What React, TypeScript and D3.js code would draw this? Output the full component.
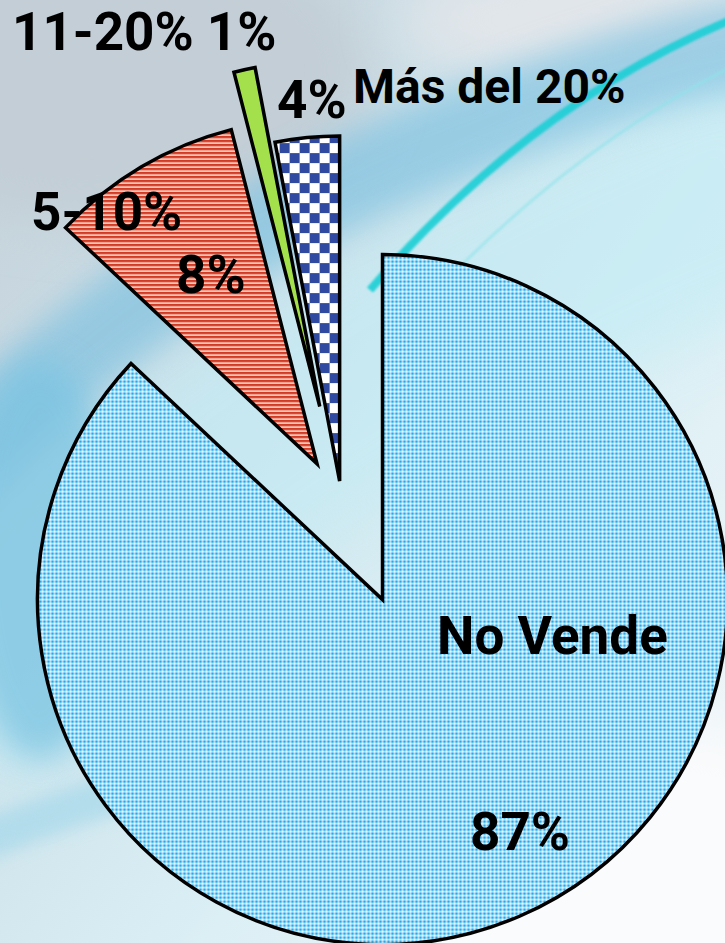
import React from "react";
import * as d3 from "d3";

// ---- data ----
const categories = ["No Vende", "5-10%", "11-20%", "Más del 20%"];
const values = [87, 9, 1, 3];
const pctLabels = ["87%", "8%", "1%", "4%"];

// ---- layout / style ----
const W = 725;
const H = 943;
const CX = 342;
const CY = 506;
const R = 345;
const explode = [102, 49, 102, 25];
const fills = ["url(#pDots)", "url(#pStripes)", "#a3e04b", "url(#pChecker)"];

type Lbl = { t: string; x: number; y: number; size: number };
const labels: Lbl[] = [
  { t: categories[0], x: 437, y: 654, size: 53 },
  { t: pctLabels[0], x: 470, y: 850, size: 53 },
  { t: categories[1], x: 31, y: 230, size: 53 },
  { t: pctLabels[1], x: 176, y: 293, size: 53 },
  { t: `${categories[2]} ${pctLabels[2]}`, x: 12, y: 50, size: 53 },
  { t: pctLabels[3], x: 277, y: 118, size: 53 },
  { t: categories[3], x: 353, y: 103, size: 48 },
];

export default function App() {
  const pie = d3
    .pie<number>()
    .sort(null)
    .startAngle(0)
    .endAngle(2 * Math.PI)
    .value((d) => d);
  const arcs = pie(values);
  const arcGen = d3.arc<d3.PieArcDatum<number>>().innerRadius(0).outerRadius(R);

  return (
    <svg
      width={W}
      height={H}
      viewBox={`0 0 ${W} ${H}`}
      style={{ position: "absolute", left: 0, top: 0, display: "block" }}
    >
      <defs>
        <linearGradient id="bg" x1="0" y1="0" x2="1" y2="1">
          <stop offset="0" stopColor="#c4d0d8" />
          <stop offset="0.35" stopColor="#cde0e8" />
          <stop offset="0.6" stopColor="#d8eef4" />
          <stop offset="1" stopColor="#f7f8fa" />
        </linearGradient>
        <filter id="b30" x="-50%" y="-50%" width="200%" height="200%">
          <feGaussianBlur stdDeviation="28" />
        </filter>
        <filter id="b18" x="-50%" y="-50%" width="200%" height="200%">
          <feGaussianBlur stdDeviation="16" />
        </filter>
        <filter id="b8" x="-50%" y="-50%" width="200%" height="200%">
          <feGaussianBlur stdDeviation="8" />
        </filter>
        <filter id="b1" x="-20%" y="-20%" width="140%" height="140%">
          <feGaussianBlur stdDeviation="1.3" />
        </filter>
        <pattern id="pDots" width="4" height="4" patternUnits="userSpaceOnUse">
          <rect width="4" height="4" fill="#f2fbff" />
          <circle cx="2" cy="2" r="1.8" fill="#74ccf4" />
          <circle cx="2" cy="2" r="1.1" fill="#0fa0ea" />
        </pattern>
        <pattern id="pStripes" width="4" height="4" patternUnits="userSpaceOnUse">
          <rect width="4" height="4" fill="#fbe3dc" />
          <rect y="0" width="4" height="2" fill="#d13a24" />
          <rect y="2" width="4" height="0.8" fill="#e8836f" />
        </pattern>
        <pattern id="pChecker" width="20" height="20" patternUnits="userSpaceOnUse" x="0" y="2">
          <rect width="20" height="20" fill="#ffffff" />
          <rect x="0" y="0" width="10" height="10" fill="#2f4aa0" />
          <rect x="10" y="10" width="10" height="10" fill="#2f4aa0" />
        </pattern>
      </defs>

      {/* background */}
      <rect width={W} height={H} fill="url(#bg)" />
      <ellipse cx={110} cy={70} rx={260} ry={150} fill="#c3ced6" filter="url(#b30)" />
      <ellipse cx={600} cy={20} rx={200} ry={60} fill="#e2e6ea" filter="url(#b30)" />
      <path
        d="M -60 720 Q 250 380 800 170"
        stroke="#c3ecf5"
        strokeWidth={230}
        fill="none"
        opacity={0.6}
        filter="url(#b30)"
      />
      <path
        d="M -60 480 Q 150 260 420 150 T 800 40"
        stroke="#6cbbdf"
        strokeWidth={90}
        fill="none"
        opacity={0.55}
        filter="url(#b18)"
      />
      <ellipse cx={40} cy={560} rx={80} ry={200} fill="#7cc4e2" opacity={0.75} filter="url(#b18)" />
      <path
        d="M -40 850 Q 150 770 380 730"
        stroke="#9fd6ea"
        strokeWidth={40}
        fill="none"
        opacity={0.6}
        filter="url(#b8)"
      />
      <ellipse cx={620} cy={880} rx={260} ry={160} fill="#fafbfc" filter="url(#b30)" />
      <path
        d="M 745 60 Q 560 150 400 330"
        stroke="#8fe3ea"
        strokeWidth={3}
        fill="none"
        opacity={0.6}
        filter="url(#b1)"
      />
      <path
        d="M 745 14 Q 535 98 370 290"
        stroke="#1fcfd6"
        strokeWidth={8}
        fill="none"
        opacity={0.9}
        filter="url(#b1)"
      />

      {/* pie */}
      {arcs.map((a, i) => {
        const mid = (a.startAngle + a.endAngle) / 2;
        const dx = explode[i] * Math.sin(mid);
        const dy = -explode[i] * Math.cos(mid);
        return (
          <path
            key={categories[i]}
            d={arcGen(a) || ""}
            transform={`translate(${CX + dx},${CY + dy})`}
            fill={fills[i]}
            stroke="#000"
            strokeWidth={3.5}
            strokeLinejoin="miter"
          />
        );
      })}

      {/* labels */}
      {labels.map((l) => (
        <text
          key={l.t}
          x={l.x}
          y={l.y}
          fontFamily="Roboto, 'Open Sans', sans-serif"
          fontWeight={700}
          fontSize={l.size}
          fill="#000"
        >
          {l.t}
        </text>
      ))}
    </svg>
  );
}
